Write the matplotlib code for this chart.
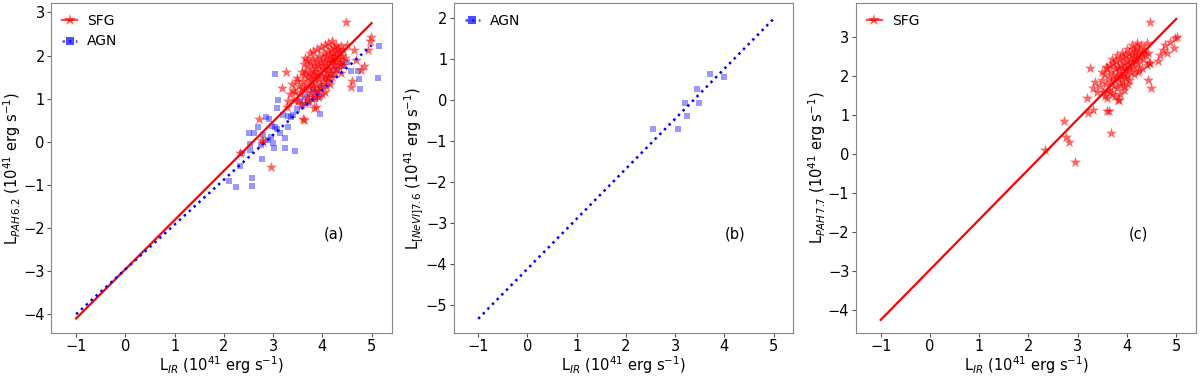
import numpy as np
import matplotlib
matplotlib.use("Agg")
import matplotlib.pyplot as plt
from matplotlib.lines import Line2D

# panel (a): SFG stars, log L_IR vs log L_PAH6.2
sfg_a_x = [4.48, 2.95, 2.71, 2.33, 2.78, 2.80, 3.26, 3.19, 3.49, 3.64, 3.29, 3.87, 3.84,
           3.60, 3.63, 4.61, 4.58, 4.78, 4.85, 4.65, 4.68, 4.92, 4.99, 4.96, 4.51, 4.39, 4.41,
           3.55, 3.58, 3.60, 3.62, 3.63, 3.65, 3.66, 3.68, 3.70, 3.70, 3.72, 3.73, 3.75, 3.75,
           3.76, 3.78, 3.79, 3.80, 3.80, 3.82, 3.83, 3.84, 3.85, 3.86, 3.87, 3.88, 3.89, 3.90,
           3.91, 3.92, 3.93, 3.94, 3.95, 3.96, 3.97, 3.98, 3.99, 4.00, 4.01, 4.02, 4.03, 4.04,
           4.05, 4.06, 4.07, 4.08, 4.09, 4.10, 4.11, 4.12, 4.13, 4.14, 4.15, 4.16, 4.17, 4.18,
           4.19, 4.20, 4.21, 4.22, 4.23, 4.24, 4.25, 4.27, 4.28, 4.30, 4.32, 4.33, 4.35, 4.37,
           4.40, 4.42, 4.45, 3.50, 3.52, 3.45, 3.48, 3.40, 3.42, 3.38, 3.35, 3.30, 3.57, 3.65,
           3.72, 3.78, 3.85, 3.92, 3.98, 4.05, 4.10, 4.15, 4.20, 4.25, 4.30, 3.68, 3.75, 3.82,
           3.90, 3.97, 4.05, 4.12, 4.20, 4.28, 4.35, 4.38, 3.62, 3.58]
sfg_a_y = [2.78, -0.58, 0.53, -0.25, 0.04, 0.00, 1.63, 1.24, 1.40, 1.94, 0.80, 0.80, 0.79,
           0.53, 0.50, 1.40, 1.27, 1.67, 1.75, 2.13, 1.90, 2.13, 2.44, 2.35, 2.25, 1.84, 1.78,
           1.10, 1.25, 1.40, 1.55, 1.20, 1.65, 1.35, 1.05, 1.50, 1.75, 1.28, 1.60, 1.45, 1.85,
           1.15, 1.70, 1.38, 1.55, 1.95, 1.25, 1.62, 1.80, 1.48, 1.05, 1.72, 1.35, 1.90, 1.58,
           1.20, 1.78, 1.45, 2.00, 1.65, 1.30, 1.85, 1.55, 1.10, 1.75, 1.95, 1.40, 1.68, 2.05,
           1.52, 1.85, 1.30, 1.98, 1.62, 1.80, 2.10, 1.50, 1.90, 1.72, 2.02, 1.60, 1.85, 2.15,
           1.95, 1.70, 2.05, 1.88, 2.20, 1.78, 1.98, 2.10, 1.85, 2.00, 2.15, 1.92, 2.08, 2.22,
           2.00, 2.12, 1.95, 0.95, 1.30, 1.15, 1.48, 1.20, 0.98, 1.35, 1.10, 0.95, 0.85, 0.90,
           0.95, 1.00, 1.15, 1.05, 1.25, 1.15, 1.40, 1.35, 1.50, 1.60, 1.70, 1.90, 2.05, 2.10,
           2.15, 2.20, 2.25, 2.30, 2.35, 2.25, 1.80, 1.60, 1.80, 1.62]

# panel (a): AGN squares
agn_a_x = [5.16, 5.12, 4.76, 4.75, 4.73, 4.58, 3.03, 3.96, 3.10, 3.07, 3.49, 2.86, 2.92,
           3.20, 3.30, 3.36, 3.41, 3.03, 3.08, 2.97, 2.51, 2.61, 2.53, 2.54, 2.75, 2.96, 3.00,
           3.24, 3.02, 3.24, 3.45, 2.78, 2.37, 2.32, 2.58, 2.58, 2.11, 2.24, 2.80, 2.90, 3.15,
           3.55, 3.65, 3.75, 3.85, 3.90, 4.00, 4.10, 4.20, 4.30, 3.70, 3.80, 4.40, 4.50, 3.95,
           3.60, 3.30, 2.70]
agn_a_y = [2.23, 1.49, 1.23, 1.45, 1.65, 1.65, 1.57, 0.65, 0.96, 0.78, 0.77, 0.57, 0.52,
           0.63, 0.34, 0.57, 0.62, 0.34, 0.30, 0.36, 0.20, 0.21, -0.04, -0.18, -0.07, 0.12, -0.02,
           0.08, -0.15, -0.14, -0.21, -0.41, -0.27, -0.56, -0.83, -1.02, -0.90, -1.06, 0.15, 0.05, 0.20,
           0.95, 1.05, 1.10, 1.00, 1.15, 1.30, 1.45, 1.55, 1.70, 0.90, 1.25, 1.75, 1.85, 1.05,
           0.85, 0.60, 0.35]

# panel (b): AGN, [NeVI] 7.6
agn_b_x = [2.55, 3.05, 3.20, 3.25, 3.45, 3.48, 3.70, 4.00]
agn_b_y = [-0.70, -0.70, -0.08, -0.40, 0.28, -0.07, 0.63, 0.57]

# panel (c): SFG, PAH 7.7
sfg_c_x = [4.47, 2.34, 2.72, 2.76, 2.83, 2.95, 3.67, 3.18, 3.20, 3.31, 3.25, 3.32, 3.59,
           3.63, 3.83, 4.48, 4.42, 4.64, 4.67, 4.74, 4.78, 4.88, 4.98, 5.01, 4.95, 4.81, 4.47,
           4.40, 3.45, 3.50, 3.52, 3.55, 3.58, 3.60, 3.62, 3.63, 3.65, 3.67, 3.68, 3.70, 3.71,
           3.72, 3.74, 3.75, 3.76, 3.78, 3.79, 3.80, 3.81, 3.82, 3.84, 3.85, 3.86, 3.87, 3.88,
           3.90, 3.91, 3.92, 3.94, 3.95, 3.96, 3.98, 3.99, 4.00, 4.01, 4.03, 4.04, 4.05, 4.07,
           4.08, 4.10, 4.11, 4.12, 4.14, 4.15, 4.17, 4.18, 4.20, 4.21, 4.23, 4.25, 4.27, 4.28,
           4.30, 4.32, 4.35, 4.38, 4.40, 4.43, 4.45, 3.40, 3.35, 3.55, 3.60, 3.65, 3.75, 3.85,
           3.82, 3.95, 4.05, 4.15, 4.25, 4.30, 3.70, 3.80, 3.90, 4.00, 4.10, 4.20, 3.58, 3.50,
           3.93, 4.02, 4.22]
sfg_c_y = [3.39, 0.11, 0.84, 0.43, 0.32, -0.21, 0.55, 1.45, 1.05, 1.14, 2.22, 1.71, 1.12,
           1.11, 1.39, 1.71, 1.90, 2.38, 2.55, 2.68, 2.81, 2.89, 2.97, 3.02, 2.72, 2.59, 2.33,
           2.85, 1.75, 1.90, 1.60, 2.05, 1.80, 2.20, 1.65, 1.95, 2.30, 1.85, 2.10, 1.55, 2.35,
           2.00, 1.75, 2.20, 1.90, 2.40, 2.05, 1.70, 2.25, 1.95, 2.15, 1.80, 2.45, 2.00, 2.30,
           1.85, 2.20, 2.50, 2.05, 2.35, 1.95, 2.55, 2.15, 2.40, 2.00, 2.30, 2.60, 2.20, 2.45,
           2.10, 2.55, 2.35, 2.70, 2.25, 2.50, 2.65, 2.40, 2.75, 2.55, 2.35, 2.65, 2.50, 2.80,
           2.60, 2.45, 2.70, 2.55, 2.30, 2.60, 2.35, 1.60, 1.85, 1.50, 1.45, 1.60, 1.50, 1.55,
           1.40, 1.75, 1.90, 2.05, 2.15, 2.20, 2.45, 2.55, 2.60, 2.70, 2.80, 2.85, 2.25, 2.10,
           1.65, 1.80, 2.10]

# linear fits (slope, intercept)
fit_sfg_a = (1.142, -2.958)
fit_agn_a = (1.040, -2.960)
fit_agn_b = (1.222, -4.128)
fit_sfg_c = (1.287, -2.963)
fit_x = np.array([-1.0, 5.0])

ylabels = [r'L$_{PAH\,6.2}$ (10$^{41}$ erg s$^{-1}$)',
           r'L$_{[NeVI]7.6}$ (10$^{41}$ erg s$^{-1}$)',
           r'L$_{PAH\,7.7}$ (10$^{41}$ erg s$^{-1}$)']
xlabel = r'L$_{IR}$ (10$^{41}$ erg s$^{-1}$)'
tags = ['(a)', '(b)', '(c)']

star_kw = dict(marker='*', color='red', alpha=0.6, s=70, linewidths=0)
sq_kw = dict(marker='s', color='blue', alpha=0.4, s=24, linewidths=0)

fig = plt.figure(figsize=(12, 3.76), dpi=100)
ax1 = fig.add_axes([0.0425, 0.114, 0.284, 0.878])
ax2 = fig.add_axes([0.378, 0.114, 0.283, 0.878])
ax3 = fig.add_axes([0.713, 0.114, 0.284, 0.878])

# (a)
ax1.scatter(agn_a_x, agn_a_y, **sq_kw)
ax1.scatter(sfg_a_x, sfg_a_y, **star_kw)
ax1.plot(fit_x, np.polyval(fit_sfg_a, fit_x), color='red', lw=1.6)
ax1.plot(fit_x, np.polyval(fit_agn_a, fit_x), color='blue', lw=1.8, ls=':')
ax1.set_xlim(-1.51, 5.41)
ax1.set_ylim(-4.44, 3.22)
ax1.set_yticks(range(-4, 4))

# (b)
ax2.scatter(agn_b_x, agn_b_y, **sq_kw)
ax2.plot(fit_x, np.polyval(fit_agn_b, fit_x), color='blue', lw=1.8, ls=':')
ax2.set_xlim(-1.5, 5.4)
ax2.set_ylim(-5.70, 2.37)
ax2.set_yticks(range(-5, 3))

# (c)
ax3.scatter(sfg_c_x, sfg_c_y, **star_kw)
ax3.plot(fit_x, np.polyval(fit_sfg_c, fit_x), color='red', lw=1.6)
ax3.set_xlim(-1.51, 5.41)
ax3.set_ylim(-4.59, 3.88)
ax3.set_yticks(range(-4, 4))

sfg_handle = Line2D([], [], color='red', ls='-', marker='*', markersize=9,
                    markerfacecolor=(1, 0, 0, 0.6), markeredgewidth=0, lw=1.6, alpha=0.7)
agn_handle = Line2D([], [], color='blue', ls=':', marker='s', markersize=5.5,
                    markerfacecolor=(0, 0, 1, 0.4), markeredgewidth=0, lw=1.8, alpha=0.7)

leg_kw = dict(loc='upper left', frameon=False, fontsize=10, handlelength=1.1,
              borderaxespad=0.4, handletextpad=0.7, labelspacing=0.45)
ax1.legend([sfg_handle, agn_handle], ['SFG', 'AGN'], **leg_kw)
ax2.legend([agn_handle], ['AGN'], **leg_kw)
ax3.legend([sfg_handle], ['SFG'], **leg_kw)

for ax, yl, tag in zip([ax1, ax2, ax3], ylabels, tags):
    ax.set_xticks(range(-1, 6))
    ax.set_xlabel(xlabel, fontsize=10.5, labelpad=0)
    ax.set_ylabel(yl, fontsize=10.5, labelpad=0)
    ax.tick_params(labelsize=10.5, length=3, pad=1.5, color='#555555')
    for sp in ax.spines.values():
        sp.set_color('#888888')
    ax.text(0.83, 0.30, tag, transform=ax.transAxes, fontsize=10.5,
            ha='center', va='center')

fig.savefig('out.png', dpi=100)
